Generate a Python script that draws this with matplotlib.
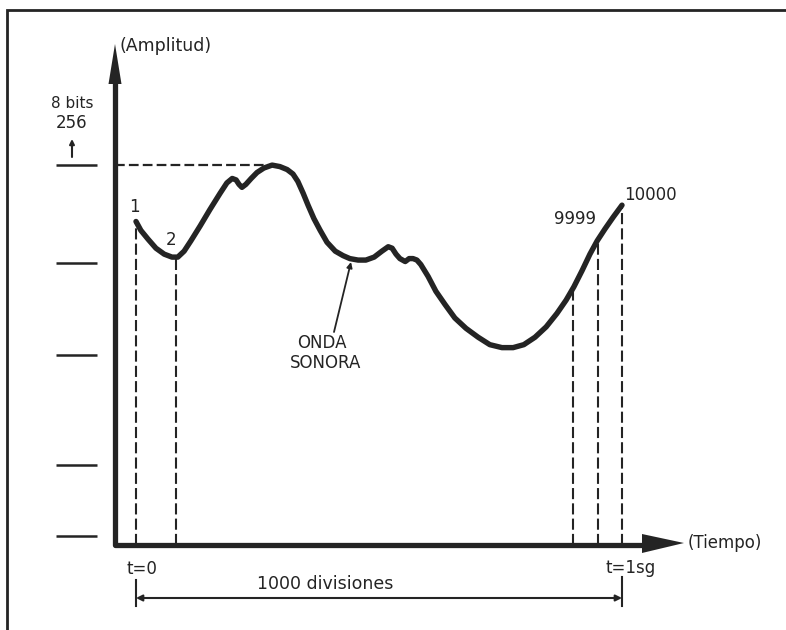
import matplotlib
matplotlib.use("Agg")
import matplotlib.pyplot as plt
from matplotlib.patches import Polygon

# ---------------- data ----------------
time_div = [0, 10, 25, 41, 58, 74, 86, 99, 113, 132,
            152, 173, 187, 198, 206, 212, 218, 226, 237, 249,
            263, 280, 296, 311, 323, 333, 344, 354, 366, 379,
            393, 410, 426, 440, 457, 473, 490, 506, 519, 527,
            535, 543, 554, 562, 570, 578, 586, 601, 617, 636,
            656, 679, 704, 728, 753, 776, 798, 821, 844, 866,
            885, 901, 918, 934, 949, 965, 982, 1000]
amplitude = [218, 212, 206, 200, 196, 194, 194, 198, 205, 215,
             226, 237, 244, 247, 246, 243, 241, 243, 247, 251,
             254, 256, 255, 253, 250, 245, 237, 229, 220, 212,
             204, 198, 195, 193, 192, 192, 194, 198, 201, 200,
             196, 193, 191, 193, 193, 192, 189, 181, 171, 162,
             153, 146, 140, 135, 133, 133, 135, 140, 147, 156,
             165, 174, 185, 196, 205, 213, 221, 229]

sample_t = [0, 82, 899, 951, 1000]
sample_amp = [218, 194, 173, 206, 229]
sample_labels = ["1", "2", "", "9999", "10000"]

level_ticks = [6, 54, 128, 190, 256]
max_level = 256
n_divisions = 1000

# ---------------- layout helpers (pixel -> data) ----------------
W, H = 786, 630
X0_PX, PX_PER_DIV = 136.0, 0.486
Y0_PX, PX_PER_LEVEL = 545.0, 1.484


def P(x, y):
    return ((x - X0_PX) / PX_PER_DIV, (Y0_PX - y) / PX_PER_LEVEL)


INK = "#242424"
plt.rcParams['lines.scale_dashes'] = False
FONT = "DejaVu Sans"
FS = 12

fig = plt.figure(figsize=(W / 100, H / 100), dpi=100)
fig.patch.set_facecolor("white")
ax = fig.add_axes([0, 0, 1, 1])
ax.set_xlim(P(0, 0)[0], P(W, 0)[0])
ax.set_ylim(P(0, H)[1], P(0, 0)[1])
ax.axis("off")

# frame (left and top border)
fx, fy = zip(P(7, H), P(7, 10), P(W, 10))
ax.plot(fx, fy, color=INK, lw=2.0, solid_joinstyle="miter")

# axes lines
ax_x = P(115, 0)[0]
ax_y = 0
top = P(0, 78)[1]
right = P(645, 0)[0]
ax.plot([ax_x, ax_x, right], [top, ax_y, ax_y], color=INK, lw=3.8,
        solid_joinstyle="round", solid_capstyle="butt")
# arrow heads
ax.add_patch(Polygon([P(115, 44), P(108.5, 84), P(121.5, 84)], closed=True,
                     color=INK, lw=0))
ax.add_patch(Polygon([P(684, 543), P(642, 534), P(642, 553)], closed=True,
                     color=INK, lw=0))

# level tick marks
for lv in level_ticks:
    x1, _ = P(56, 0)
    x2, _ = P(97, 0)
    ax.plot([x1, x2], [lv, lv], color=INK, lw=1.8, solid_capstyle="butt")

# dashed max level line
ax.plot([ax_x, P(268, 0)[0]], [max_level, max_level], color=INK, lw=1.6,
        dashes=(7, 3))

# sample dashed verticals
for t, a in zip(sample_t, sample_amp):
    ax.plot([t, t], [ax_y, a], color=INK, lw=1.5, dashes=(8, 3))

# the wave
ax.plot(time_div, amplitude, color=INK, lw=3.9, solid_joinstyle="round",
        solid_capstyle="round")

# sample labels
lab_pos = {"1": (134, 207), "2": (171, 240), "9999": (575, 219),
           "10000": (650, 195)}
for lab in sample_labels:
    if lab:
        x, y = P(*lab_pos[lab])
        ax.text(x, y, lab, ha="center", va="center", fontsize=FS,
                family=FONT, color=INK)

# axis titles
ax.text(*P(119, 46), "(Amplitud)", ha="left", va="center", fontsize=FS + 0.5,
        family=FONT, color=INK)
ax.text(*P(688, 543), "(Tiempo)", ha="left", va="center", fontsize=FS,
        family=FONT, color=INK)
ax.text(*P(72, 104), "8 bits", ha="center", va="center", fontsize=FS - 1,
        family=FONT, color=INK)
ax.text(*P(72, 123), str(max_level), ha="center", va="center",
        fontsize=FS, family=FONT, color=INK)
ax.annotate("", xy=P(72, 139), xytext=P(72, 157),
            arrowprops=dict(arrowstyle="-|>", color=INK, lw=1.5,
                            mutation_scale=7, shrinkA=0, shrinkB=0))

# ONDA SONORA pointer
ax.annotate("", xy=P(351, 262), xytext=P(334, 332),
            arrowprops=dict(arrowstyle="-|>", color=INK, lw=1.3,
                            mutation_scale=8, shrinkA=0, shrinkB=0))
ax.text(*P(322, 343), "ONDA", ha="center", va="center", fontsize=FS,
        family=FONT, color=INK)
ax.text(*P(326, 363), "SONORA", ha="center", va="center", fontsize=FS,
        family=FONT, color=INK)

# time labels and dimension line
ax.text(*P(142, 569), "t=0", ha="center", va="center", fontsize=FS,
        family=FONT, color=INK)
ax.text(*P(631, 568), "t=1sg", ha="center", va="center", fontsize=FS,
        family=FONT, color=INK)
dim_y = P(0, 598)[1]
ax.plot([0, 0], [P(0, 580)[1], P(0, 606)[1]], color=INK, lw=1.5)
ax.plot([n_divisions, n_divisions], [P(0, 577)[1], P(0, 606)[1]],
        color=INK, lw=1.5)
ax.annotate("", xy=(0, dim_y), xytext=(n_divisions, dim_y),
            arrowprops=dict(arrowstyle="<|-|>", color=INK, lw=1.5,
                            mutation_scale=9, shrinkA=0, shrinkB=0))
ax.text(*P(325, 584), f"{n_divisions} divisiones", ha="center", va="center",
        fontsize=FS + 0.5, family=FONT, color=INK)

fig.savefig("out.png", dpi=100, facecolor="white")
